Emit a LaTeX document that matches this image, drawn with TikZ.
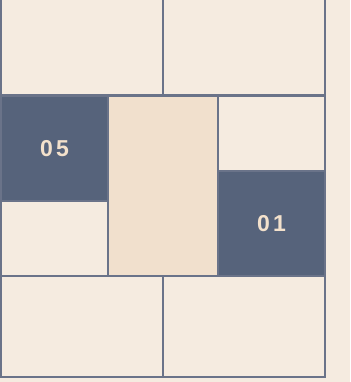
\documentclass[tikz,border=0pt]{standalone}
\usepackage{fontspec}
\newfontfamily\numfont[LetterSpace=14]{Liberation Sans Bold}
\definecolor{bg}{HTML}{F5EBE0}
\definecolor{tan}{HTML}{F1E0CD}
\definecolor{slate}{HTML}{56637B}
\definecolor{edge}{HTML}{6A7389}
\definecolor{numc}{HTML}{F3E1CC}
\begin{document}
\begin{tikzpicture}[x=1pt,y=-1pt,
  cell/.style={draw=edge,line width=1.2pt,inner sep=0pt,outer sep=0pt,anchor=north west},
  light/.style={cell,fill=bg},
  mid/.style={cell,fill=tan},
  dark/.style={cell,fill=slate},
  num/.style={text=numc,font=\numfont\fontsize{23}{23}\selectfont}]
\fill[bg] (0,0) rectangle (350,382);
\useasboundingbox (0,0) rectangle (350,382);
\node[light,minimum width=162pt,minimum height=96pt] (tl) at (1,-1) {};
\node[light,minimum width=162pt,minimum height=96pt] (tr) at (163,-1) {};
\node[dark,minimum width=107pt,minimum height=105pt] (c05) at (1,96) {};
\node[light,minimum width=107pt,minimum height=75pt] (ml) at (1,201) {};
\node[mid,minimum width=110pt,minimum height=180pt] (mc) at (108,96) {};
\node[light,minimum width=107pt,minimum height=75pt] (mr) at (218,96) {};
\node[dark,minimum width=107pt,minimum height=105pt] (c01) at (218,171) {};
\node[light,minimum width=162pt,minimum height=101pt] (bl) at (1,276) {};
\node[light,minimum width=162pt,minimum height=101pt] (br) at (163,276) {};
\node[num] (t05) at (c05.center) {05};
\node[num] (t01) at (c01.center) {01};
\end{tikzpicture}
\end{document}
